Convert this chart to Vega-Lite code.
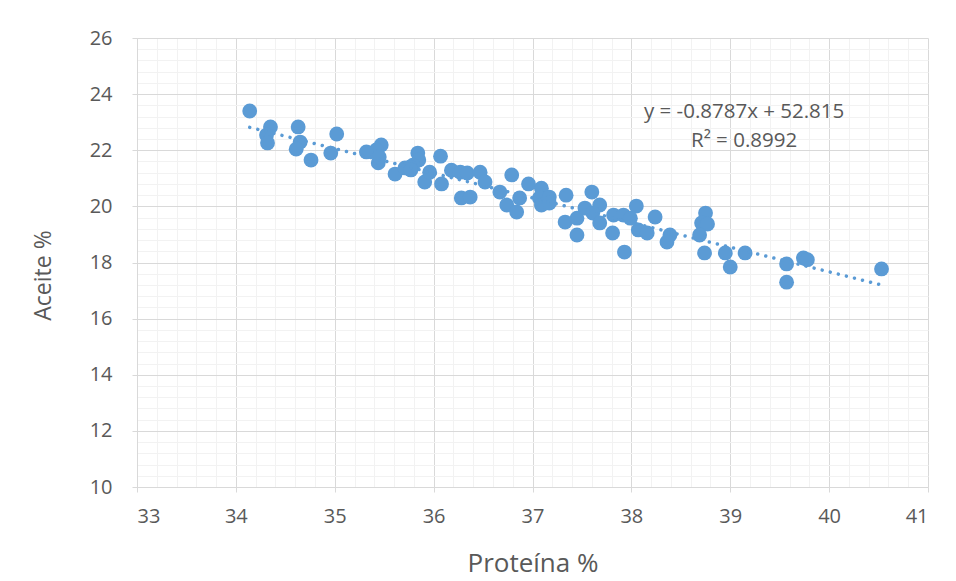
{
  "$schema": "https://vega.github.io/schema/vega-lite/v6.json",
  "width": 791,
  "height": 449,
  "autosize": "none",
  "padding": {"left": 137, "top": 38, "right": 28, "bottom": 94},
  "background": "white",
  "config": {"view": {"stroke": null}, "font": "Open Sans"},
  "datasets": {
    "pts": [
      {"proteina": 34.14, "aceite": 23.40}, {"proteina": 34.35, "aceite": 22.83}, {"proteina": 34.31, "aceite": 22.54},
      {"proteina": 34.32, "aceite": 22.26}, {"proteina": 34.63, "aceite": 22.83}, {"proteina": 34.65, "aceite": 22.29},
      {"proteina": 34.61, "aceite": 22.04}, {"proteina": 34.76, "aceite": 21.65}, {"proteina": 35.02, "aceite": 22.58},
      {"proteina": 34.96, "aceite": 21.90}, {"proteina": 35.47, "aceite": 22.19}, {"proteina": 35.42, "aceite": 22.01},
      {"proteina": 35.32, "aceite": 21.94}, {"proteina": 35.44, "aceite": 21.55}, {"proteina": 35.45, "aceite": 21.76},
      {"proteina": 35.61, "aceite": 21.15}, {"proteina": 35.84, "aceite": 21.90}, {"proteina": 35.85, "aceite": 21.65},
      {"proteina": 35.71, "aceite": 21.37}, {"proteina": 35.79, "aceite": 21.47}, {"proteina": 35.76, "aceite": 21.40},
      {"proteina": 35.77, "aceite": 21.30}, {"proteina": 35.91, "aceite": 20.87}, {"proteina": 35.96, "aceite": 21.22},
      {"proteina": 36.07, "aceite": 21.79}, {"proteina": 36.08, "aceite": 20.80}, {"proteina": 36.18, "aceite": 21.29},
      {"proteina": 36.27, "aceite": 21.22}, {"proteina": 36.34, "aceite": 21.19}, {"proteina": 36.28, "aceite": 20.30},
      {"proteina": 36.37, "aceite": 20.33}, {"proteina": 36.47, "aceite": 21.22}, {"proteina": 36.52, "aceite": 20.87},
      {"proteina": 36.79, "aceite": 21.12}, {"proteina": 36.67, "aceite": 20.51}, {"proteina": 36.74, "aceite": 20.05},
      {"proteina": 36.84, "aceite": 19.80}, {"proteina": 36.87, "aceite": 20.30}, {"proteina": 36.96, "aceite": 20.80},
      {"proteina": 37.09, "aceite": 20.65}, {"proteina": 37.07, "aceite": 20.30}, {"proteina": 37.09, "aceite": 20.05},
      {"proteina": 37.17, "aceite": 20.33}, {"proteina": 37.17, "aceite": 20.12}, {"proteina": 37.34, "aceite": 20.40},
      {"proteina": 37.33, "aceite": 19.44}, {"proteina": 37.45, "aceite": 19.58}, {"proteina": 37.53, "aceite": 19.94},
      {"proteina": 37.45, "aceite": 18.98}, {"proteina": 37.60, "aceite": 20.51}, {"proteina": 37.68, "aceite": 20.05},
      {"proteina": 37.61, "aceite": 19.76}, {"proteina": 37.68, "aceite": 19.41}, {"proteina": 37.82, "aceite": 19.69},
      {"proteina": 37.92, "aceite": 19.69}, {"proteina": 38.05, "aceite": 20.01}, {"proteina": 37.99, "aceite": 19.58},
      {"proteina": 38.07, "aceite": 19.16}, {"proteina": 38.16, "aceite": 19.05}, {"proteina": 38.24, "aceite": 19.62},
      {"proteina": 37.81, "aceite": 19.05}, {"proteina": 37.93, "aceite": 18.37}, {"proteina": 38.39, "aceite": 18.98},
      {"proteina": 38.36, "aceite": 18.73}, {"proteina": 38.75, "aceite": 19.76}, {"proteina": 38.71, "aceite": 19.41},
      {"proteina": 38.77, "aceite": 19.37}, {"proteina": 38.69, "aceite": 18.98}, {"proteina": 38.74, "aceite": 18.34},
      {"proteina": 38.95, "aceite": 18.34}, {"proteina": 39.00, "aceite": 17.84}, {"proteina": 39.15, "aceite": 18.34},
      {"proteina": 39.57, "aceite": 17.95}, {"proteina": 39.57, "aceite": 17.30}, {"proteina": 39.74, "aceite": 18.16},
      {"proteina": 39.78, "aceite": 18.10}, {"proteina": 40.53, "aceite": 17.77}
    ],
    "trend": [
      {"proteina": 34.14, "aceite": 22.816},
      {"proteina": 40.53, "aceite": 17.201}
    ],
    "labels": [
      {"proteina": 39.14, "aceite": 23.36, "txt": "y = -0.8787x + 52.815"},
      {"proteina": 39.14, "aceite": 22.33, "txt": "R² = 0.8992"}
    ]
  },
  "encoding": {
    "x": {
      "field": "proteina", "type": "quantitative",
      "scale": {"domain": [33, 41], "nice": false, "zero": false},
      "axis": {
        "title": "Proteína %",
        "titleFont": "Open Sans", "titleFontSize": 26, "titleFontWeight": "normal", "titleColor": "#595959",
        "titlePadding": 24,
        "values": [33,33.2,33.4,33.6,33.8,34,34.2,34.4,34.6,34.8,35,35.2,35.4,35.6,35.8,36,36.2,36.4,36.6,36.8,37,37.2,37.4,37.6,37.8,38,38.2,38.4,38.6,38.8,39,39.2,39.4,39.6,39.8,40,40.2,40.4,40.6,40.8,41],
        "labelExpr": "datum.value % 1 === 0 ? format(datum.value, 'd') : ''",
        "labelOverlap": false,
        "labelFont": "Open Sans", "labelFontSize": 20, "labelColor": "#595959", "labelPadding": 14,
        "domainColor": "#d9d9d9", "tickColor": "#d9d9d9", "tickSize": 5,
        "tickOpacity": {"condition": {"test": "datum.value % 1 === 0", "value": 1}, "value": 0},
        "grid": true,
        "gridColor": {"condition": {"test": "datum.value % 1 === 0", "value": "#d9d9d9"}, "value": "#f2f2f2"}
      }
    },
    "y": {
      "field": "aceite", "type": "quantitative",
      "scale": {"domain": [10, 26], "nice": false, "zero": false},
      "axis": {
        "title": "Aceite %",
        "titleFont": "Open Sans", "titleFontSize": 23, "titleFontWeight": "normal", "titleColor": "#595959",
        "titlePadding": 34, "titleY": 237,
        "values": [10,10.4,10.8,11.2,11.6,12,12.4,12.8,13.2,13.6,14,14.4,14.8,15.2,15.6,16,16.4,16.8,17.2,17.6,18,18.4,18.8,19.2,19.6,20,20.4,20.8,21.2,21.6,22,22.4,22.8,23.2,23.6,24,24.4,24.8,25.2,25.6,26],
        "labelExpr": "datum.value % 2 === 0 ? format(datum.value, 'd') : ''",
        "labelOverlap": false,
        "labelFont": "Open Sans", "labelFontSize": 20, "labelColor": "#595959", "labelPadding": 20,
        "domainColor": "#d9d9d9", "tickColor": "#d9d9d9", "tickSize": 5,
        "tickOpacity": {"condition": {"test": "datum.value % 2 === 0", "value": 1}, "value": 0},
        "grid": true,
        "gridColor": {"condition": {"test": "datum.value % 2 === 0", "value": "#d9d9d9"}, "value": "#f2f2f2"}
      }
    }
  },
  "layer": [
    {
      "data": {"name": "pts"},
      "mark": {"type": "circle", "size": 220, "color": "#5b9bd5", "opacity": 1}
    },
    {
      "data": {"name": "trend"},
      "mark": {"type": "line", "color": "#5b9bd5", "strokeWidth": 3.5, "strokeDash": [0.01, 8.3], "strokeCap": "round"}
    },
    {
      "data": {"name": "labels"},
      "mark": {"type": "text", "align": "center", "baseline": "middle", "fontSize": 20.5, "color": "#595959", "font": "Open Sans"},
      "encoding": {"text": {"field": "txt", "type": "nominal"}}
    }
  ]
}
